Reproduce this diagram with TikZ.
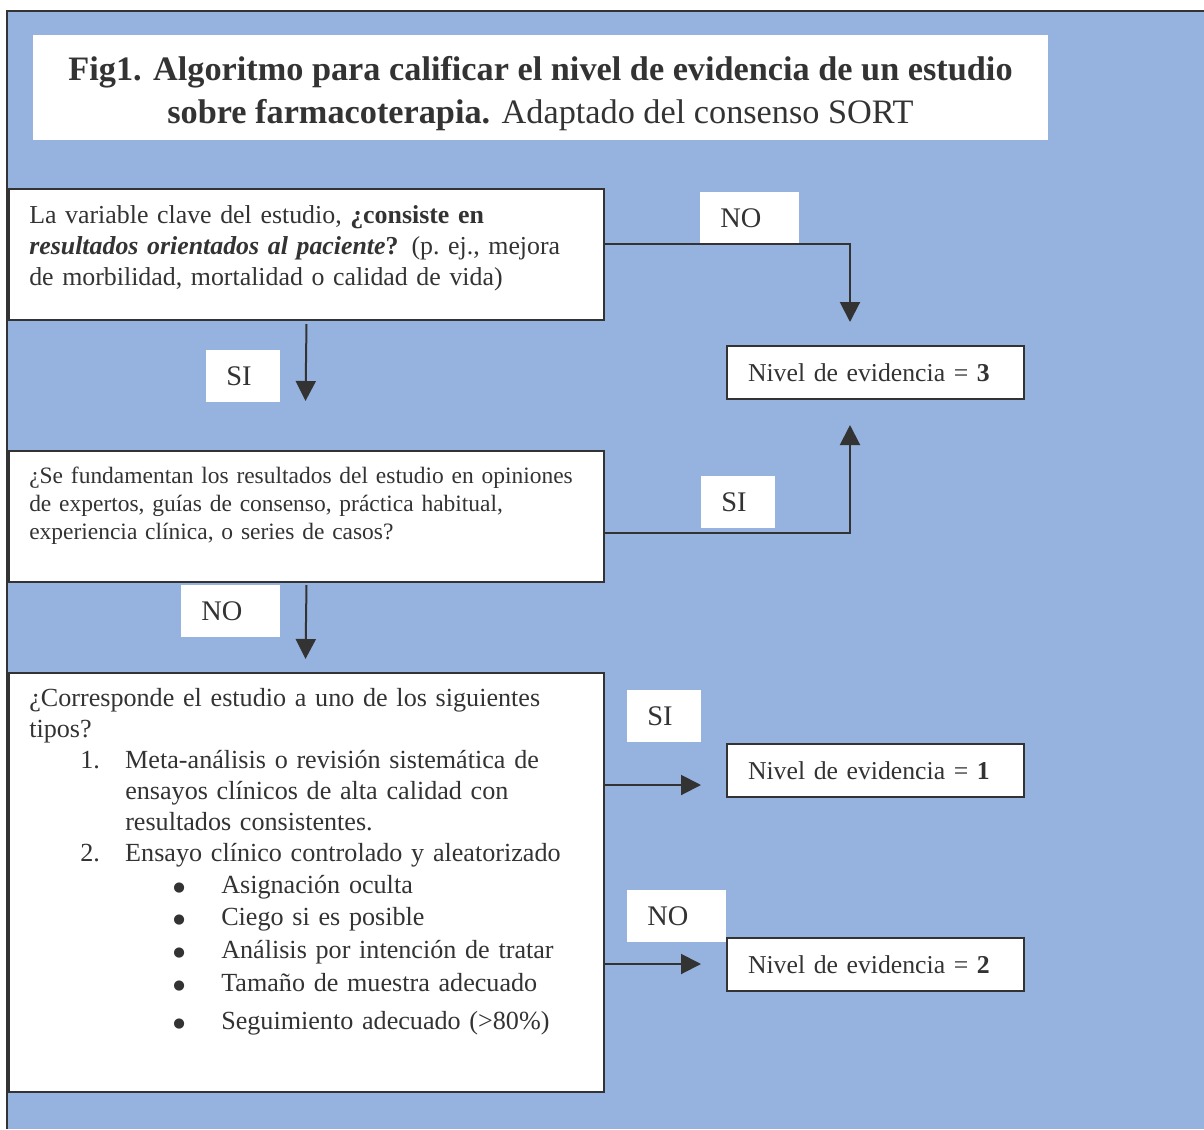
\documentclass[tikz,border=0pt]{standalone}
\usepackage{fontspec}
\setmainfont{Liberation Serif}
\newfontfamily\dejavu{DejaVu Sans}
\usetikzlibrary{arrows.meta}
\definecolor{panel}{HTML}{95B3DE}
\definecolor{ink}{HTML}{333333}
\newcommand{\bigdot}{\raisebox{1.5pt}{\dejavu\fontsize{10}{10}\selectfont ●}}
\tikzset{
  box/.style={draw=ink, line width=1.5pt, fill=white, inner sep=0pt, anchor=north west},
  txt/.style={anchor=north west, inner sep=0pt, align=left, text=ink},
  nivel/.style={box, text=ink, align=left, inner xsep=15.75pt, inner ysep=0pt,
    text width=191.25pt, minimum height=39.5pt, font=\fontsize{19.3}{23}\selectfont},
  lab/.style={fill=white, anchor=north west, inner xsep=15pt, inner ysep=0pt,
    minimum height=39pt, align=left, text=ink, font=\fontsize{21.3}{24}\selectfont},
  labNO/.style={lab, text width=44.25pt},
  labSI/.style={lab, text width=25.5pt},
  conn/.style={draw=ink, line width=1.5pt},
  arr/.style={conn, -{Triangle[length=15pt,width=15pt]}}
}
\begin{document}
\begin{tikzpicture}[x=0.75pt,y=-0.75pt]
\useasboundingbox (0,0) rectangle (1204,1129);
\fill[white] (0,0) rectangle (1204,1129);
\fill[panel] (7,11) rectangle (1204,1129);
\draw[ink, line width=1.5pt] (7,1129) -- (7,11) -- (1204,11);

% title
\node[fill=white, anchor=north west, inner sep=0pt, minimum width=761.25pt,
  minimum height=78.75pt] (title) at (33,35) {};
\node[align=center, text=ink, inner sep=0pt, anchor=center,
  font=\fontsize{25.7}{32.25}\selectfont] (ttext) at (540.5,93.5)
  {\textbf{Fig1. Algoritmo para calificar el nivel de evidencia de un estudio}\\
   \textbf{sobre farmacoterapia.} Adaptado del consenso SORT};

% decision boxes
\node[box, minimum width=446.25pt, minimum height=98.25pt] (b1) at (8,188) {};
\node[txt, text width=430pt, font=\fontsize{19.4}{23.25}\selectfont] (t1) at (29,201.3)
  {\strut La variable clave del estudio, \textbf{¿consiste en}\\
   \textbf{\textit{resultados orientados al paciente}?} (p.\ ej., mejora\\
   de morbilidad, mortalidad o calidad de vida)};

\node[box, minimum width=446.25pt, minimum height=98.25pt] (b2) at (8,450) {};
\node[txt, text width=430pt, font=\fontsize{17.6}{21}\selectfont] (t2) at (29,463.4)
  {\strut ¿Se fundamentan los resultados del estudio en opiniones\\
   de expertos, guías de consenso, práctica habitual,\\
   experiencia clínica, o series de casos?};

\node[box, minimum width=446.25pt, minimum height=314.25pt] (b3) at (8,672) {};
\node[txt, text width=430pt, font=\fontsize{19.6}{23.25}\selectfont] (t3) at (29,685)
  {\strut ¿Corresponde el estudio a uno de los siguientes\\
   tipos?\\
   \hspace*{38.25pt}\makebox[33.75pt][l]{1.}Meta-análisis o revisión sistemática de\\
   \hspace*{72pt}ensayos clínicos de alta calidad con\\
   \hspace*{72pt}resultados consistentes.\\
   \hspace*{38.25pt}\makebox[33.75pt][l]{2.}Ensayo clínico controlado y aleatorizado\\[0.75pt]
   \hspace*{108pt}\makebox[36pt][l]{\bigdot}Asignación oculta\\[0.75pt]
   \hspace*{108pt}\makebox[36pt][l]{\bigdot}Ciego si es posible\\[1.5pt]
   \hspace*{108pt}\makebox[36pt][l]{\bigdot}Análisis por intención de tratar\\[1.5pt]
   \hspace*{108pt}\makebox[36pt][l]{\bigdot}Tamaño de muestra adecuado\\[5.25pt]
   \hspace*{108pt}\makebox[36pt][l]{\bigdot}Seguimiento adecuado (>80\%)};

% result boxes
\node[nivel] (n3) at (726,345) {Nivel de evidencia = \textbf{3}};
\node[nivel] (n1) at (726,743) {Nivel de evidencia = \textbf{1}};
\node[nivel] (n2) at (726,937) {Nivel de evidencia = \textbf{2}};

% labels
\node[labNO] (lno1) at (700,192) {NO};
\node[labSI] (lsi1) at (206,350) {SI};
\node[labSI] (lsi2) at (701,476) {SI};
\node[labNO] (lno2) at (181,585) {NO};
\node[labSI] (lsi3) at (627,690) {SI};
\node[labNO] (lno3) at (627,890) {NO};

% bends and free ends
\coordinate (k1) at (850,244);
\coordinate (e1) at (850,322);
\coordinate (e2) at (305.5,401);
\coordinate (k3) at (850,533);
\coordinate (e3) at (850,425);
\coordinate (e4) at (305.5,659);
\coordinate (e5) at (701,785);
\coordinate (e6) at (701,964);

% connectors
\draw[arr] (b1.east |- k1) -- (k1) -- (e1);
\draw[arr] ([yshift=-2.25pt]b1.south) -- (e2);
\draw[arr] (b2.east |- k3) -- (k3) -- (e3);
\draw[arr] ([yshift=-1.5pt]b2.south) -- (e4);
\draw[arr] (b3.east |- e5) -- (e5);
\draw[arr] (b3.east |- e6) -- (e6);
\end{tikzpicture}
\end{document}
